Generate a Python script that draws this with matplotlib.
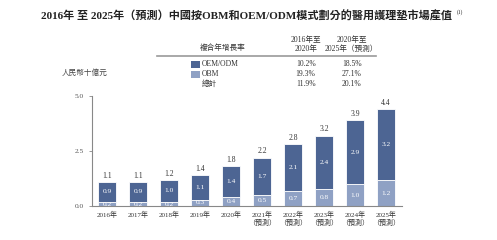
import matplotlib
matplotlib.use("Agg")
import matplotlib.pyplot as plt

years = ["2016年", "2017年", "2018年", "2019年", "2020年",
         "2021年\n（預測）", "2022年\n（預測）", "2023年\n（預測）", "2024年\n（預測）", "2025年\n（預測）"]
obm = [0.2, 0.2, 0.2, 0.3, 0.4, 0.5, 0.7, 0.8, 1.0, 1.2]
oem = [0.9, 0.9, 1.0, 1.1, 1.4, 1.7, 2.1, 2.4, 2.9, 3.2]
total = [1.1, 1.1, 1.2, 1.4, 1.8, 2.2, 2.8, 3.2, 3.9, 4.4]
yticks = [0.0, 2.5, 5.0]

cagr_rows = ["OEM/ODM", "OBM", "總計"]
cagr_1 = ["10.2%", "19.3%", "11.9%"]
cagr_2 = ["18.5%", "27.1%", "20.1%"]

DARK = "#4d6593"
LIGHT = "#8fa1c4"
FONT = ["Liberation Serif", "Noto Sans CJK TC"]
plt.rcParams["font.family"] = FONT

W, H = 497, 240
fig = plt.figure(figsize=(W / 100, H / 100), dpi=100)

def fx(px):
    return px / W

def fy(py):
    return 1 - py / H

ax = fig.add_axes([fx(92), fy(206.3), fx(401.7) - fx(92), fy(95.7) - fy(206.3)])
x = list(range(len(years)))
ax.bar(x, obm, width=0.56, color=LIGHT, edgecolor="white", linewidth=0.6)
ax.bar(x, oem, width=0.56, bottom=obm, color=DARK, edgecolor="white", linewidth=0.6)
for i in x:
    ax.text(i, obm[i] / 2, f"{obm[i]:.1f}", ha="center", va="center", color="white", fontsize=5.3)
    ax.text(i, obm[i] + oem[i] / 2, f"{oem[i]:.1f}", ha="center", va="center", color="white", fontsize=5.3)
    ax.text(i, total[i] + 0.1, f"{total[i]:.1f}", ha="center", va="bottom", color="#333333", fontsize=5.5)

ax.set_xlim(-0.484, 9.506)
ax.set_ylim(0, 5)
ax.set_yticks(yticks)
ax.set_yticklabels([f"{v:.1f}" for v in yticks], fontsize=5.3, color="#555555")
ax.set_xticks(x)
ax.set_xticklabels(years, fontsize=5, color="#333333", linespacing=1.15)
ax.tick_params(axis="x", length=0, pad=3)
ax.tick_params(axis="y", length=2, width=0.6, color="#888888", pad=4)
for s in ["top", "right"]:
    ax.spines[s].set_visible(False)
for s in ["left", "bottom"]:
    ax.spines[s].set_color("#888888")
    ax.spines[s].set_linewidth(0.8)

# title
fig.text(fx(41), fy(15), "2016年 至 2025年（預測）中國按OBM和OEM/ODM模式劃分的醫用護理墊市場產值",
         ha="left", va="center", fontsize=8.0, fontweight="bold", color="#222222")
fig.text(fx(457), fy(12), "(1)", ha="left", va="center", fontsize=4, color="#222222")

# unit label
fig.text(fx(85), fy(73), "人民幣十億元", ha="center", va="center", fontsize=5.5, color="#444444")

# CAGR table
fig.text(fx(223), fy(48), "複合年增長率", ha="center", va="center", fontsize=5.5, color="#333333")
fig.text(fx(305.7), fy(44.5), "2016年至\n2020年", ha="center", va="center", fontsize=5.5,
         color="#333333", linespacing=1.1)
fig.text(fx(351.7), fy(44.5), "2020年至\n2025年（預測）", ha="center", va="center", fontsize=5.5,
         color="#333333", linespacing=1.1)
fig.add_artist(plt.Line2D([fx(157), fx(375.7)], [fy(56), fy(56)], color="#999999", linewidth=1.2))
row_y = [64, 74, 84]
colors = [DARK, LIGHT, None]
for r, yy in enumerate(row_y):
    if colors[r]:
        fig.add_artist(plt.Rectangle((fx(190.7), fy(yy + 3.5)), fx(9.3), fy(0) - fy(7),
                                     facecolor=colors[r], edgecolor="none"))
    fig.text(fx(202), fy(yy), cagr_rows[r], ha="left", va="center", fontsize=5.5, color="#333333")
    fig.text(fx(305.7), fy(yy), cagr_1[r], ha="center", va="center", fontsize=5.5, color="#333333")
    fig.text(fx(351.7), fy(yy), cagr_2[r], ha="center", va="center", fontsize=5.5, color="#333333")

fig.savefig("out.png", dpi=100)
